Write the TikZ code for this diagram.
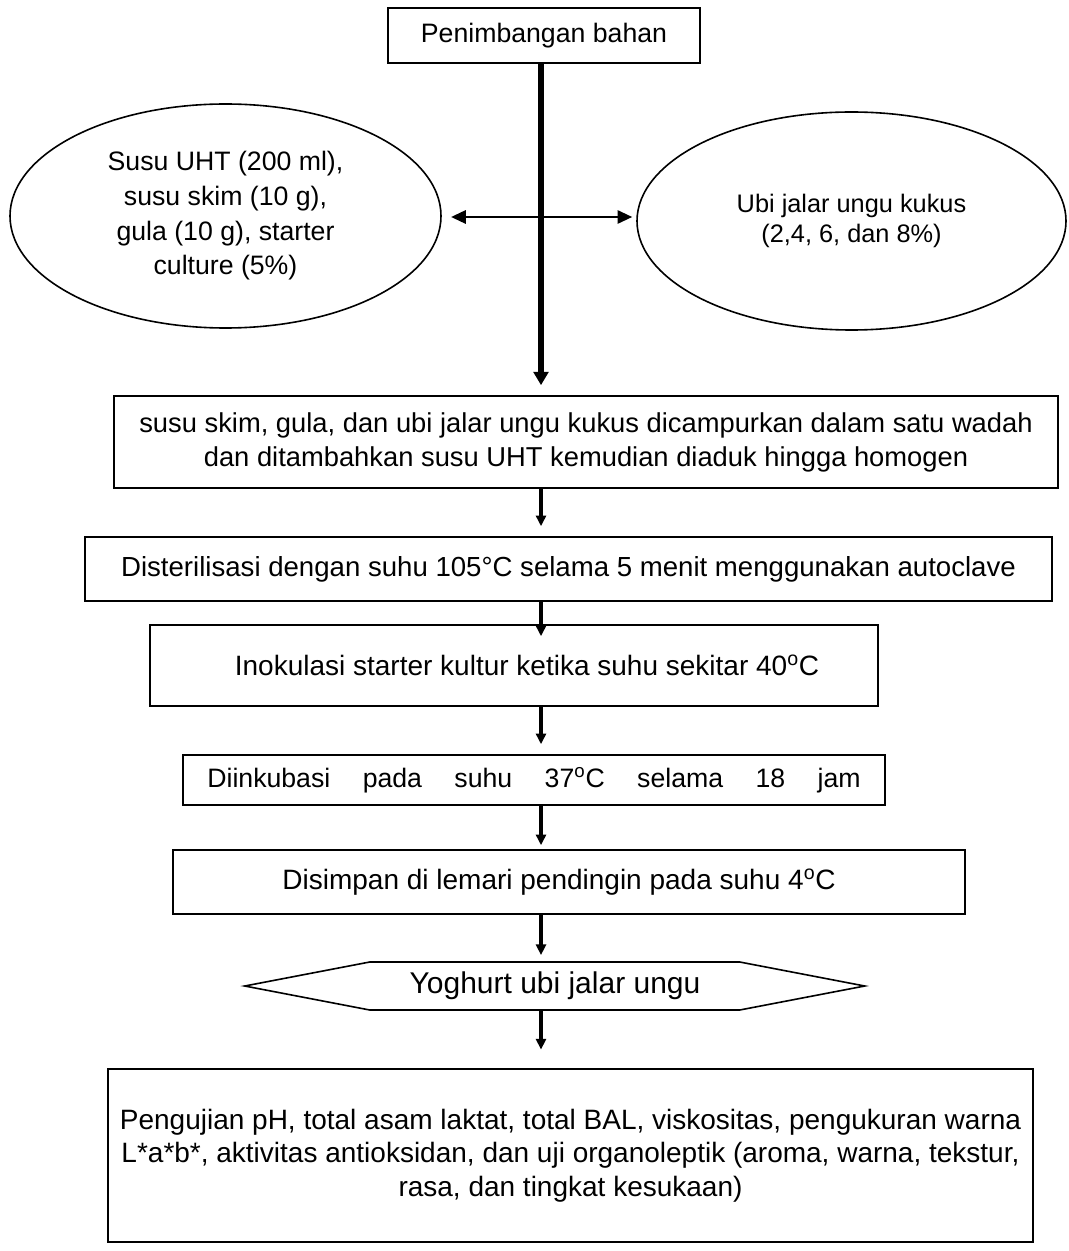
\documentclass[tikz,border=0pt]{standalone}
\usepackage{fontspec}
\setmainfont{Liberation Sans}
\usetikzlibrary{arrows.meta,shapes.geometric}

\begin{document}
\begin{tikzpicture}
  [x=0.75pt,y=-0.75pt,
  kotak/.style={draw,line width=1.2pt,inner sep=0pt,align=center,
    font=\fontsize{21}{25}\selectfont},
  elips/.style={draw,ellipse,line width=1.2pt,inner sep=0pt,align=center},
  panah/.style={line width=3pt,-{Triangle[length=8pt,width=7.5pt]},shorten >=7.5pt},
  panahdua/.style={line width=1.5pt,{Triangle[length=11pt,width=10pt]}-{Triangle[length=11pt,width=10pt]}}]
  \useasboundingbox (0,0) rectangle (1069,1251);
  \coordinate (sumbu) at (541,0);
  % bahan
  \node[kotak,minimum width=234pt,minimum height=41.25pt,font=\fontsize{20}{24}\selectfont]
    (timbang) at (544,35.5) {Penimbangan bahan};
  \node[elips,minimum width=323.25pt,minimum height=168pt,font=\fontsize{20}{26}\selectfont]
    (susu) at (225.5,216) {Susu UHT (200 ml),\\susu skim (10 g),\\gula (10 g), starter\\culture (5\%)};
  \node[elips,minimum width=321.75pt,minimum height=163.5pt,font=\fontsize{19}{22}\selectfont]
    (ubi) at (851.5,221) {Ubi jalar ungu kukus\\(2,4, 6, dan 8\%)};
  % proses
  \node[kotak,minimum width=708pt,minimum height=69pt,font=\fontsize{20.5}{25.5}\selectfont]
    (campur) at (586,442)
    {susu skim, gula, dan ubi jalar ungu kukus dicampurkan dalam satu wadah\\
     dan ditambahkan susu UHT kemudian diaduk hingga homogen};
  \node[kotak,minimum width=725.25pt,minimum height=48pt,font=\fontsize{20.7}{25}\selectfont]
    (steril) at (568.5,569)
    {Disterilisasi dengan suhu 105°C selama 5 menit menggunakan autoclave};
  \node[kotak,minimum width=546pt,minimum height=60.75pt] (inokulasi) at (514,665.5)
    {\hspace*{19.5pt}Inokulasi starter kultur ketika suhu sekitar 40\textsuperscript{o}C};
  \node[kotak,minimum width=526.5pt,minimum height=37.5pt,font=\fontsize{20}{25}\selectfont]
    (inkubasi) at (534,780)
    {\hbox to 490pt{Diinkubasi\hfill pada\hfill suhu\hfill 37\textsuperscript{o}C\hfill selama\hfill 18\hfill jam}};
  \node[kotak,minimum width=594pt,minimum height=48pt] (simpan) at (569,882)
    {\hspace*{-15pt}Disimpan di lemari pendingin pada suhu 4\textsuperscript{o}C};
  \node[font=\fontsize{22.5}{25}\selectfont,inner sep=0pt,minimum width=465pt,minimum height=36pt]
    (yoghurt) at (555,986) {Yoghurt ubi jalar ungu};
  \draw[line width=1.2pt] (yoghurt.west) -- ++(125,-24) -- ++(370,0) -- ++(125,24)
    -- ++(-125,24) -- ++(-370,0) -- cycle;
  \node[kotak,minimum width=693.75pt,minimum height=129.75pt] (uji) at (570.5,1155.5)
    {Pengujian pH, total asam laktat, total BAL, viskositas, pengukuran warna\\
     L*a*b*, aktivitas antioksidan, dan uji organoleptik (aroma, warna, tekstur,\\
     rasa, dan tingkat kesukaan)};
  % panah
  \draw[panah,line width=4.5pt,-{Triangle[length=10pt,width=11pt]}] (timbang.south -| sumbu) -- (campur.north -| sumbu);
  \draw[panahdua,shorten <=7pt,shorten >=3pt] (susu.east) ++(0,1) coordinate (kiri) -- (kiri -| ubi.west);
  \draw[panah] (campur.south -| sumbu) -- (steril.north -| sumbu);
  \draw[panah,shorten >=-9pt] (steril.south -| sumbu) -- (inokulasi.north -| sumbu);
  \draw[panah] (inokulasi.south -| sumbu) -- (inkubasi.north -| sumbu);
  \draw[panah,shorten >=3pt] (inkubasi.south -| sumbu) -- (simpan.north -| sumbu);
  \draw[panah,shorten >=5pt] (simpan.south -| sumbu) -- (yoghurt.north -| sumbu);
  \draw[panah,shorten >=14pt] (yoghurt.south -| sumbu) -- (uji.north -| sumbu);
\end{tikzpicture}
\end{document}
